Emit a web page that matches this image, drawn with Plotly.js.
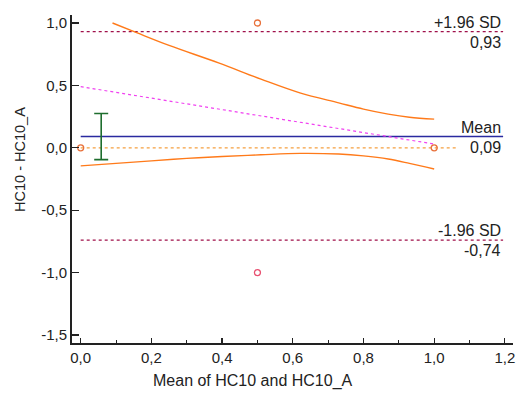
<!DOCTYPE html>
<html>
<head>
<meta charset="utf-8">
<script src="https://cdn.plot.ly/plotly-3.0.1.min.js"></script>
<style>html,body{margin:0;padding:0;background:#fff}#chart{width:520px;height:396px}</style>
</head>
<body>
<div id="chart"></div>
<script>
// Data points (mean of methods, difference)
const pointMeans = [0.0, 0.5, 1.0];
const pointDiffs = [0.0, 1.0, 0.0];
const outlierMeans = [0.5];
const outlierDiffs = [-1.0];

// Summary statistics
const meanDiff = 0.09;
const upperLoA = 0.93;
const lowerLoA = -0.74;
const meanCIHalf = 0.185;
const ciX = 0.058;
const lineX = [0.0, 1.195];

// Regression line (difference vs mean)
const regX = [0.0, 1.0];
const regY = [0.49, 0.03];

// Zero reference line
const zeroX = [0.0, 1.066];
const zeroY = [0.0, 0.0];

// Confidence curves of regression
const upperCurveX = [0.09, 0.16, 0.25, 0.39, 0.51, 0.62, 0.73, 0.80, 0.87, 0.93, 1.0];
const upperCurveY = [1.0, 0.92, 0.82, 0.68, 0.55, 0.44, 0.36, 0.31, 0.27, 0.245, 0.23];
const lowerCurveX = [0.0, 0.1, 0.2, 0.3, 0.4, 0.51, 0.62, 0.73, 0.80, 0.87, 0.93, 1.0];
const lowerCurveY = [-0.145, -0.125, -0.105, -0.085, -0.07, -0.056, -0.045, -0.05, -0.065, -0.09, -0.125, -0.17];

// Tick labels and titles
const xTickVals = [0, 0.2, 0.4, 0.6, 0.8, 1.0, 1.2];
const xTickText = ['0,0', '0,2', '0,4', '0,6', '0,8', '1,0', '1,2'];
const yTickVals = [-1.5, -1.0, -0.5, 0, 0.5, 1.0];
const yTickText = ['-1,5', '-1,0', '-0,5', '0,0', '0,5', '1,0'];
const xTitle = 'Mean of HC10 and HC10_A';
const yTitle = 'HC10 - HC10_A';

const fmt = v => v.toFixed(2).replace('.', ',');

const traces = [
  {x: lineX, y: [upperLoA, upperLoA], mode: 'lines', line: {color: '#a0104a', width: 1.2, dash: 'dot'}, hoverinfo: 'skip'},
  {x: lineX, y: [lowerLoA, lowerLoA], mode: 'lines', line: {color: '#a0104a', width: 1.2, dash: 'dot'}, hoverinfo: 'skip'},
  {x: lineX, y: [meanDiff, meanDiff], mode: 'lines', line: {color: '#2a2aa0', width: 1.4}, hoverinfo: 'skip'},
  {x: zeroX, y: zeroY, mode: 'lines', line: {color: '#f5a040', width: 1.2, dash: 'dot'}, hoverinfo: 'skip'},
  {x: regX, y: regY, mode: 'lines', line: {color: '#f040f0', width: 1.2, dash: 'dot'}, hoverinfo: 'skip'},
  {x: upperCurveX, y: upperCurveY, mode: 'lines', line: {color: '#ff7a1a', width: 1.4, shape: 'spline'}, hoverinfo: 'skip'},
  {x: lowerCurveX, y: lowerCurveY, mode: 'lines', line: {color: '#ff7a1a', width: 1.4, shape: 'spline'}, hoverinfo: 'skip'},
  {x: [ciX], y: [meanDiff], mode: 'markers', marker: {size: 1, color: 'rgba(0,0,0,0)'},
   error_y: {type: 'constant', value: meanCIHalf, color: '#1e6e2e', thickness: 1.6, width: 7}, hoverinfo: 'skip'},
  {x: pointMeans, y: pointDiffs, mode: 'markers', cliponaxis: false,
   marker: {symbol: 'circle-open', size: 6, color: '#e8703a', line: {width: 1.3}}},
  {x: outlierMeans, y: outlierDiffs, mode: 'markers',
   marker: {symbol: 'circle-open', size: 6, color: '#e85070', line: {width: 1.3}}}
];

const annFont = {family: 'Liberation Sans, Arial, sans-serif', size: 16, color: '#222'};
const ann = (text, y, anchor) => ({x: lineX[1], y: y, xref: 'x', yref: 'y', text: text, showarrow: false,
  xanchor: 'right', yanchor: anchor, yshift: anchor === 'bottom' ? -1 : 0, font: annFont});

const layout = {
  width: 520, height: 396,
  margin: {l: 72, r: 7, t: 15, b: 53},
  paper_bgcolor: '#fff', plot_bgcolor: '#fff',
  showlegend: false,
  font: {family: 'Liberation Sans, Arial, sans-serif', size: 15, color: '#222'},
  xaxis: {
    range: [-0.0246, 1.223], showgrid: false, zeroline: false,
    showline: true, linecolor: '#222', linewidth: 2,
    ticks: 'inside', ticklen: 5, tickwidth: 1.2, tickcolor: '#222',
    tickvals: xTickVals, ticktext: xTickText, tickfont: {size: 15},
    minor: {dtick: 0.1, ticks: 'inside', ticklen: 3, tickcolor: '#222', tickwidth: 1}
  },
  yaxis: {
    range: [-1.564, 1.064], showgrid: false, zeroline: false,
    showline: true, linecolor: '#222', linewidth: 2,
    ticks: 'inside', ticklen: 7, tickwidth: 1.2, tickcolor: '#222',
    tickvals: yTickVals, ticktext: yTickText, tickfont: {size: 15}
  },
  annotations: [
    ann('+1.96 SD', upperLoA, 'bottom'),
    ann(fmt(upperLoA), upperLoA, 'top'),
    ann('Mean', meanDiff, 'bottom'),
    ann(fmt(meanDiff), meanDiff, 'top'),
    ann('-1.96 SD', lowerLoA, 'bottom'),
    ann(fmt(lowerLoA), lowerLoA, 'top'),
    {text: xTitle, xref: 'paper', yref: 'paper', x: 0.41, y: -0.116, xanchor: 'center', yanchor: 'middle',
     showarrow: false, font: {family: 'Liberation Sans, Arial, sans-serif', size: 16, color: '#222'}},
    {text: yTitle, xref: 'paper', yref: 'paper', x: -0.118, y: 0.561, xanchor: 'center', yanchor: 'middle',
     textangle: -90, showarrow: false, font: {family: 'Liberation Sans, Arial, sans-serif', size: 14.5, color: '#222'}}
  ]
};

Plotly.newPlot('chart', traces, layout, {displayModeBar: false, staticPlot: true});
</script>
</body>
</html>
